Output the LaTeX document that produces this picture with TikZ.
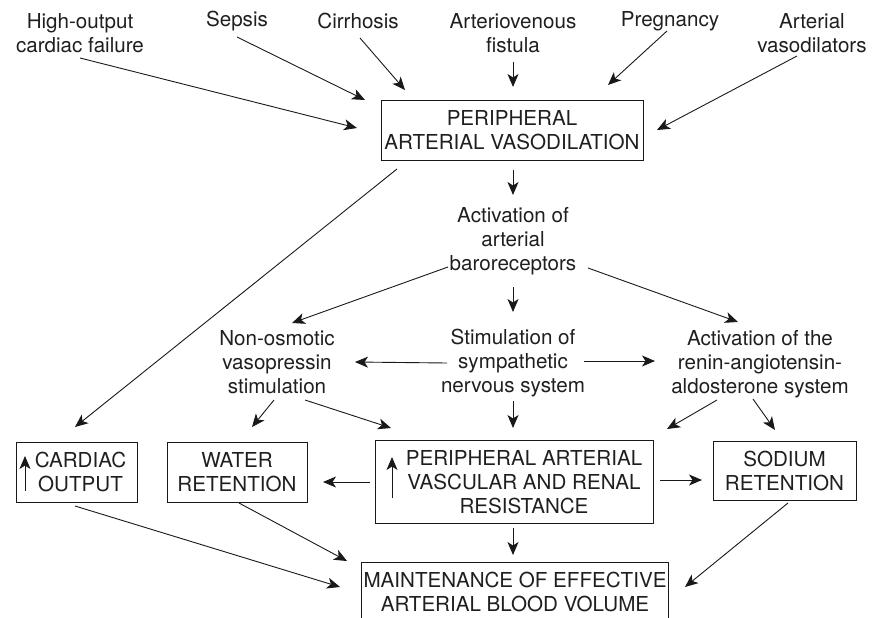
\documentclass[tikz,border=0pt]{standalone}
\usepackage{fontspec}
\setmainfont{TeX Gyre Heros}
\usetikzlibrary{arrows.meta,calc}
\begin{document}
\begin{tikzpicture}[x=1pt,y=-1pt,
  txt/.style={align=center,inner sep=0pt,font=\fontsize{20.6}{24}\selectfont,text=black!88},
  box/.style={draw=black!90,line width=0.9pt,inner sep=0pt,align=center,font=\fontsize{20.6}{24}\selectfont,text=black!88},
  arr/.style={-{Stealth[length=13pt,width=11pt,inset=3.5pt]},line width=0.9pt,draw=black!90}]
\useasboundingbox (0,0) rectangle (875,618);
% top causes
\node[txt] (hof) at (80,33) {High-output\\cardiac failure};
\node[txt] (sep) at (237,21) {Sepsis};
\node[txt] (cir) at (358,21) {Cirrhosis};
\node[txt] (avf) at (513,33) {Arteriovenous\\fistula};
\node[txt] (pre) at (670,21) {Pregnancy};
\node[txt] (avd) at (812,33) {Arterial\\vasodilators};
% central chain
\node[box,minimum width=262pt,minimum height=60pt] (pav) at (512,130) {PERIPHERAL\\ARTERIAL VASODILATION};
\node[txt] (baro) at (513,241) {Activation of\\arterial\\baroreceptors};
\node[txt] (non) at (277,362) {Non-osmotic\\vasopressin\\stimulation};
\node[txt] (sym) at (513,363) {Stimulation of\\sympathetic\\nervous system};
\node[txt] (ren) at (760,364) {Activation of the\\renin-angiotensin-\\aldosterone system};
% boxes
\node[box,minimum width=121pt,minimum height=60pt] (co) at (76.5,472) {\hspace*{8pt}CARDIAC\\\hspace*{8pt}OUTPUT};
\node[box,minimum width=140pt,minimum height=60pt] (wr) at (237,472) {WATER\\RETENTION};
\node[box,minimum width=278pt,minimum height=83pt] (pvr) at (514,482) {\hspace*{20pt}PERIPHERAL ARTERIAL\\\hspace*{20pt}VASCULAR AND RENAL\\\hspace*{20pt}RESISTANCE};
\node[box,minimum width=143pt,minimum height=59pt] (sr) at (784.5,470.5) {SODIUM\\RETENTION};
\node[box,minimum width=307pt,minimum height=60pt] (mev) at (515,592) {MAINTENANCE OF EFFECTIVE\\ARTERIAL BLOOD VOLUME};
% arrows into vasodilation box
\draw[arr] ($(hof)+(0,25)$) -- ($(pav)+(-155,-2)$);
\draw[arr] ($(sep)+(0,16)$) -- ($(pav)+(-147,-30)$);
\draw[arr] ($(cir)+(2,17)$) -- ($(pav)+(-107,-40)$);
\draw[arr] ($(avf)+(0,29)$) -- ($(pav)+(1,-43)$);
\draw[arr] ($(pre)+(-3,10)$) -- ($(pav)+(96,-45)$);
\draw[arr] ($(avd)+(-15,23)$) -- ($(pav)+(145,0)$);
% from vasodilation
\draw[arr] ($(pav)+(1,40)$) -- ($(baro)+(0,-46)$);
\draw[arr] ($(pav)+(-115,39)$) -- ($(co)+(-1.5,-45)$);
% from baroreceptors
\draw[arr] ($(baro)+(-65,26)$) -- ($(non)+(15,-39)$);
\draw[arr] ($(baro)+(0,46)$) -- ($(sym)+(0,-51)$);
\draw[arr] ($(baro)+(75,27)$) -- ($(ren)+(-22,-42)$);
% from sympathetic
\draw[arr] ($(sym)+(-66,0)$) -- ($(non)+(78,0)$);
\draw[arr] ($(sym)+(71,-2)$) -- ($(ren)+(-105,-3)$);
\draw[arr] ($(sym)+(0,38)$) -- ($(pvr)+(-1,-54)$);
% from vasopressin
\draw[arr] ($(non)+(-3,38)$) -- ($(wr)+(15,-45)$);
\draw[arr] ($(non)+(28,38)$) -- ($(pvr)+(-123,-54)$);
% from RAAS
\draw[arr] ($(ren)+(-43,36)$) -- ($(pvr)+(153,-53)$);
\draw[arr] ($(ren)+(-7,35)$) -- ($(sr)+(-9.5,-40.5)$);
% from resistance
\draw[arr] ($(pvr)+(-144,0)$) -- ($(wr)+(86,10)$);
\draw[arr] ($(pvr)+(146,-2)$) -- ($(sr)+(-82.5,9.5)$);
\draw[arr] ($(pvr)+(-1,46)$) -- ($(mev)+(-2,-37)$);
% into maintenance
\draw[arr] ($(co)+(-1.5,34)$) -- ($(mev)+(-175,-5)$);
\draw[arr] ($(wr)+(2,31)$) -- ($(mev)+(-168,-31)$);
\draw[arr] ($(sr)+(3.5,32.5)$) -- ($(mev)+(170,-5)$);
% "increase" arrows inside boxes
\draw[arr] ($(co)+(-51.5,19)$) -- ($(co)+(-51.5,-16)$);
\draw[arr] ($(pvr)+(-122,16)$) -- ($(pvr)+(-122,-25)$);
\end{tikzpicture}
\end{document}
